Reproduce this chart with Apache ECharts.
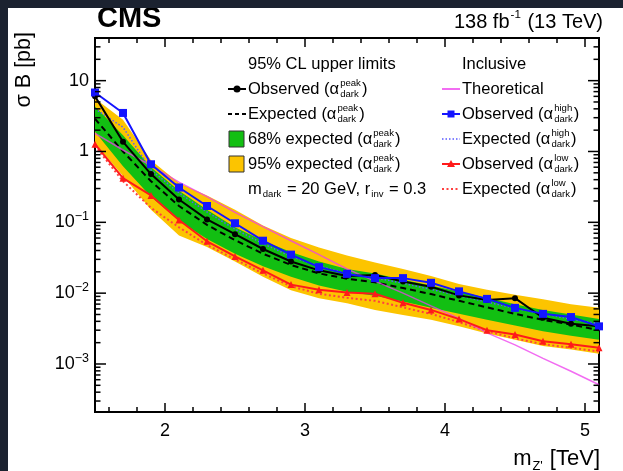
<!DOCTYPE html>
<html>
<head>
<meta charset="utf-8">
<script src="https://cdn.jsdelivr.net/npm/echarts@6/dist/echarts.min.js"></script>
<style>
html, body { margin: 0; padding: 0; background: #1b2230; }
#chart { position: absolute; left: 8px; top: 8px; width: 615px; height: 463px; background: #fff; }
</style>
</head>
<body>
<div id="chart"></div>
<script>
// Z' mass points (TeV) and 95% CL limits on sigma*B (pb)
const massTeV  = [1.5, 1.7, 1.9, 2.1, 2.3, 2.5, 2.7, 2.9, 3.1, 3.3, 3.5, 3.7, 3.9, 4.1, 4.3, 4.5, 4.7, 4.9, 5.1];
const obsPeak  = [6.0, 1.37, 0.48, 0.21, 0.11, 0.068, 0.042, 0.028, 0.021, 0.0175, 0.018, 0.0146, 0.0123, 0.0093, 0.0080, 0.0085, 0.0045, 0.0037, 0.0034];
const expPeak  = [2.9, 1.0, 0.38, 0.17, 0.092, 0.056, 0.036, 0.025, 0.019, 0.016, 0.0142, 0.0118, 0.0097, 0.0078, 0.0063, 0.0051, 0.0042, 0.0036, 0.0030];
const band68Hi = [4.3, 1.7, 0.6, 0.28, 0.15, 0.085, 0.055, 0.038, 0.028, 0.022, 0.019, 0.0155, 0.0128, 0.0105, 0.0086, 0.0070, 0.0058, 0.0050, 0.0043];
const band68Lo = [1.9, 0.62, 0.23, 0.105, 0.058, 0.036, 0.024, 0.017, 0.0128, 0.0105, 0.0092, 0.0076, 0.0062, 0.0051, 0.0042, 0.0035, 0.0029, 0.0025, 0.0022];
const band95Hi = [5.6, 2.8, 0.75, 0.36, 0.24, 0.15, 0.09, 0.06, 0.044, 0.034, 0.027, 0.022, 0.0175, 0.0135, 0.0112, 0.0095, 0.0082, 0.0070, 0.0062];
const band95Lo = [1.3, 0.45, 0.15, 0.065, 0.045, 0.028, 0.017, 0.011, 0.0085, 0.0072, 0.0058, 0.0049, 0.0042, 0.0034, 0.0027, 0.0022, 0.0018, 0.0016, 0.0014];
const obsHigh  = [6.8, 3.5, 0.66, 0.31, 0.17, 0.097, 0.055, 0.035, 0.0233, 0.0187, 0.0163, 0.0163, 0.014, 0.0106, 0.0083, 0.0062, 0.0051, 0.0046, 0.0034];
const expHigh  = [4.0, 2.2, 0.55, 0.26, 0.14, 0.08, 0.05, 0.033, 0.024, 0.019, 0.0165, 0.0138, 0.0113, 0.0092, 0.0075, 0.0061, 0.0051, 0.0043, 0.0037];
const obsLow   = [1.27, 0.42, 0.24, 0.108, 0.054, 0.033, 0.021, 0.0132, 0.0112, 0.0102, 0.0098, 0.0073, 0.0058, 0.0043, 0.0030, 0.0026, 0.0021, 0.0019, 0.0017];
const expLow   = [1.2, 0.38, 0.16, 0.085, 0.048, 0.03, 0.019, 0.0125, 0.0098, 0.0086, 0.0078, 0.0063, 0.0051, 0.0039, 0.0029, 0.0023, 0.0019, 0.0017, 0.0015];
const theory   = [1.8, 1.05, 0.63, 0.37, 0.23, 0.138, 0.087, 0.055, 0.035, 0.0219, 0.0148, 0.0100, 0.0066, 0.0044, 0.00275, 0.00186, 0.0012, 0.00079, 0.00051];

// axis ranges and ticks
const xMin = 1.5, xMax = 5.1;
const yMin = 2.1e-4, yMax = 40;
const xMajorTicks = [2, 3, 4, 5];
const xMinorTicks = [1.6, 1.8, 2.2, 2.4, 2.6, 2.8, 3.2, 3.4, 3.6, 3.8, 4.2, 4.4, 4.6, 4.8];
const yMajorTicks = [0.001, 0.01, 0.1, 1, 10];
const yMinorTicks = [];
for (let e = -4; e <= 1; e++) {
    for (let k = 2; k <= 9; k++) {
        const v = k * Math.pow(10, e);
        if (v > yMin && v < yMax) yMinorTicks.push(v);
    }
}

const FONT = '"Liberation Sans", Arial, Helvetica, sans-serif';
const GREEN = '#12bf12', YELLOW = '#fcc400', BLUE = '#1414ff', RED = '#ff1a1a', MAGENTA = '#ee3cee';

const ctx = document.createElement('canvas').getContext('2d');
function textW (s, size, weight) {
    ctx.font = (weight || 'normal') + ' ' + size + 'px ' + FONT;
    return ctx.measureText(s).width;
}

// text with ROOT-like sub/superscripts (stacked when both given)
function richText (x, y, parts, size, align) {
    const small = size * 0.58;
    const items = [];
    let w = 0;
    parts.forEach(function (p) {
        if (typeof p === 'string') {
            items.push({ text: p, dx: w, dy: 0, size: size });
            w += textW(p, size);
        } else {
            let pw = 0;
            if (p.sup) {
                items.push({ text: p.sup, dx: w + 1, dy: -size * 0.36, size: small });
                pw = textW(p.sup, small);
            }
            if (p.sub) {
                items.push({ text: p.sub, dx: w + 1, dy: size * 0.32, size: small });
                pw = Math.max(pw, textW(p.sub, small));
            }
            w += pw + 2;
        }
    });
    const x0 = align === 'right' ? x - w : x;
    return items.map(function (it) {
        return {
            type: 'text', x: x0 + it.dx, y: y + it.dy, silent: true,
            style: { text: it.text, fill: '#000', fontSize: it.size, fontFamily: FONT, verticalAlign: 'middle' }
        };
    });
}

function lineSym (x1, x2, y, color, width, dash) {
    return { type: 'line', silent: true, shape: { x1: x1, y1: y, x2: x2, y2: y },
        style: { stroke: color, lineWidth: width, lineDash: dash || null } };
}

// legend layout
const LS = 16.5;
const colL = 220, colR = 434, rows = [81, 106, 131, 156, 181];
let legend = [];
legend = legend.concat(richText(colL + 20, 56, ['95% CL upper limits'], LS));
legend.push(lineSym(colL, colL + 18, rows[0], '#000', 2));
legend.push({ type: 'circle', silent: true, shape: { cx: colL + 9, cy: rows[0], r: 3.5 }, style: { fill: '#000' } });
legend = legend.concat(richText(colL + 20, rows[0], ['Observed (\u03b1', { sup: 'peak', sub: 'dark' }, ')'], LS));
legend.push(lineSym(colL, colL + 18, rows[1], '#000', 2, [4, 3]));
legend = legend.concat(richText(colL + 20, rows[1], ['Expected (\u03b1', { sup: 'peak', sub: 'dark' }, ')'], LS));
legend.push({ type: 'rect', silent: true, shape: { x: colL + 1, y: rows[2] - 8, width: 15, height: 16 }, style: { fill: GREEN, stroke: '#333', lineWidth: 1 } });
legend = legend.concat(richText(colL + 20, rows[2], ['68% expected (\u03b1', { sup: 'peak', sub: 'dark' }, ')'], LS));
legend.push({ type: 'rect', silent: true, shape: { x: colL + 1, y: rows[3] - 8, width: 15, height: 16 }, style: { fill: YELLOW, stroke: '#333', lineWidth: 1 } });
legend = legend.concat(richText(colL + 20, rows[3], ['95% expected (\u03b1', { sup: 'peak', sub: 'dark' }, ')'], LS));
legend = legend.concat(richText(colL + 20, rows[4], ['m', { sub: 'dark' }, ' = 20 GeV, r', { sub: 'inv' }, ' = 0.3'], LS));

legend = legend.concat(richText(colR + 20, 56, ['Inclusive'], LS));
legend.push(lineSym(colR, colR + 18, rows[0], MAGENTA, 1.5));
legend = legend.concat(richText(colR + 20, rows[0], ['Theoretical'], LS));
legend.push(lineSym(colR, colR + 18, rows[1], BLUE, 2));
legend.push({ type: 'rect', silent: true, shape: { x: colR + 5.5, y: rows[1] - 3.5, width: 7, height: 7 }, style: { fill: BLUE } });
legend = legend.concat(richText(colR + 20, rows[1], ['Observed (\u03b1', { sup: 'high', sub: 'dark' }, ')'], LS));
legend.push(lineSym(colR, colR + 18, rows[2], '#5a5aff', 1.5, [1.5, 2]));
legend = legend.concat(richText(colR + 20, rows[2], ['Expected (\u03b1', { sup: 'high', sub: 'dark' }, ')'], LS));
legend.push(lineSym(colR, colR + 18, rows[3], RED, 2));
legend.push({ type: 'polygon', silent: true, shape: { points: [[colR + 9, rows[3] - 4], [colR + 13, rows[3] + 3], [colR + 5, rows[3] + 3]] }, style: { fill: RED } });
legend = legend.concat(richText(colR + 20, rows[3], ['Observed (\u03b1', { sup: 'low', sub: 'dark' }, ')'], LS));
legend.push(lineSym(colR, colR + 18, rows[4], '#ff4040', 2, [2, 2.5]));
legend = legend.concat(richText(colR + 20, rows[4], ['Expected (\u03b1', { sup: 'low', sub: 'dark' }, ')'], LS));

const titles = [
    { type: 'text', x: 89, y: 11, silent: true,
      style: { text: 'CMS', fill: '#000', fontSize: 29, fontWeight: 'bold', fontFamily: FONT, verticalAlign: 'middle' } },
    { type: 'text', x: 16, y: 24, rotation: Math.PI / 2, silent: true,
      style: { text: '\u03c3 B [pb]', fill: '#000', fontSize: 21.5, fontFamily: FONT, align: 'right', verticalAlign: 'middle' } }
].concat(richText(595, 14, ['138 fb', { sup: '-1' }, ' (13 TeV)'], 20, 'right'))
 .concat(richText(592, 451, ['m', { sub: 'Z\'' }, ' [TeV]'], 22, 'right'));

function pairs (ys) {
    return massTeV.map(function (m, i) { return [m, ys[i]]; });
}

function bandSeries (name, lo, hi, color) {
    return {
        type: 'custom', name: name, silent: true, data: [[2, 1]],
        renderItem: function (params, api) {
            const pts = massTeV.map(function (m, i) { return api.coord([m, hi[i]]); });
            for (let i = massTeV.length - 1; i >= 0; i--) pts.push(api.coord([massTeV[i], lo[i]]));
            return { type: 'polygon', shape: { points: pts }, style: { fill: color } };
        }
    };
}

function lineSeries (name, ys, color, width, dash, symbol, size, opacity) {
    return {
        type: 'line', name: name, data: pairs(ys), silent: true,
        showSymbol: !!symbol, showAllSymbol: true, symbol: symbol || 'none', symbolSize: size || 0,
        itemStyle: { color: color },
        lineStyle: { color: color, width: width, type: dash || 'solid', opacity: opacity == null ? 1 : opacity }
    };
}

// ROOT style ticks on all four sides of the frame
const tickItems = [];
xMajorTicks.forEach(function (v) { tickItems.push([0, v, 9]); });
xMinorTicks.forEach(function (v) { tickItems.push([0, v, 5]); });
yMajorTicks.forEach(function (v) { tickItems.push([1, v, 11]); });
yMinorTicks.forEach(function (v) { tickItems.push([1, v, 5.5]); });

const tickSeries = {
    type: 'custom', silent: true, z: 10, data: tickItems,
    renderItem: function (params, api) {
        const cs = params.coordSys;
        const kind = api.value(0), v = api.value(1), len = api.value(2);
        const st = { stroke: '#000', lineWidth: 1.5 };
        if (kind === 0) {
            const px = api.coord([v, 1])[0];
            const yb = cs.y + cs.height;
            return { type: 'group', children: [
                { type: 'line', shape: { x1: px, y1: yb, x2: px, y2: yb - len }, style: st },
                { type: 'line', shape: { x1: px, y1: cs.y, x2: px, y2: cs.y + len }, style: st }
            ] };
        }
        const py = api.coord([2, v])[1];
        const xr = cs.x + cs.width;
        return { type: 'group', children: [
            { type: 'line', shape: { x1: cs.x, y1: py, x2: cs.x + len, y2: py }, style: st },
            { type: 'line', shape: { x1: xr, y1: py, x2: xr - len, y2: py }, style: st }
        ] };
    }
};

const myChart = echarts.init(document.getElementById('chart'));
myChart.setOption({
    animation: false,
    backgroundColor: '#fff',
    textStyle: { fontFamily: FONT },
    grid: { left: 87, top: 30, right: 24, bottom: 59, show: true, borderColor: '#000', borderWidth: 2 },
    xAxis: {
        type: 'value', min: xMin, max: xMax,
        axisLine: { show: false }, axisTick: { show: false }, splitLine: { show: false },
        axisLabel: {
            color: '#000', fontSize: 18, fontFamily: FONT, margin: 10,
            formatter: function (v) { return Math.abs(v - Math.round(v)) < 1e-9 ? String(Math.round(v)) : ''; }
        }
    },
    yAxis: {
        type: 'log', logBase: 10, min: yMin, max: yMax,
        axisLine: { show: false }, axisTick: { show: false }, splitLine: { show: false },
        axisLabel: {
            color: '#000', fontSize: 18, fontFamily: FONT, margin: 6,
            formatter: function (v) {
                const e = Math.log10(v), r = Math.round(e);
                if (Math.abs(e - r) > 1e-6) return '';
                if (r === 0) return '1';
                if (r === 1) return '10';
                return '10{e|\u2212' + (-r) + '}';
            },
            rich: { e: { fontSize: 12.5, fontFamily: FONT, color: '#000', padding: [0, 0, 11, 0] } }
        }
    },
    graphic: titles.concat(legend),
    series: [
        bandSeries('95% expected', band95Lo, band95Hi, YELLOW),
        bandSeries('68% expected', band68Lo, band68Hi, GREEN),
        lineSeries('Expected low', expLow, '#ff4040', 2, [2, 2.5]),
        lineSeries('Expected high', expHigh, '#5a5aff', 1.5, [1.5, 2]),
        lineSeries('Expected peak', expPeak, '#000', 2, [6, 4]),
        lineSeries('Theoretical', theory, MAGENTA, 1.5, null, null, 0, 0.75),
        lineSeries('Observed low', obsLow, RED, 2, null, 'triangle', 7),
        lineSeries('Observed peak', obsPeak, '#000', 2, null, 'circle', 6),
        lineSeries('Observed high', obsHigh, BLUE, 2, null, 'rect', 8),
        tickSeries
    ]
});
</script>
</body>
</html>
